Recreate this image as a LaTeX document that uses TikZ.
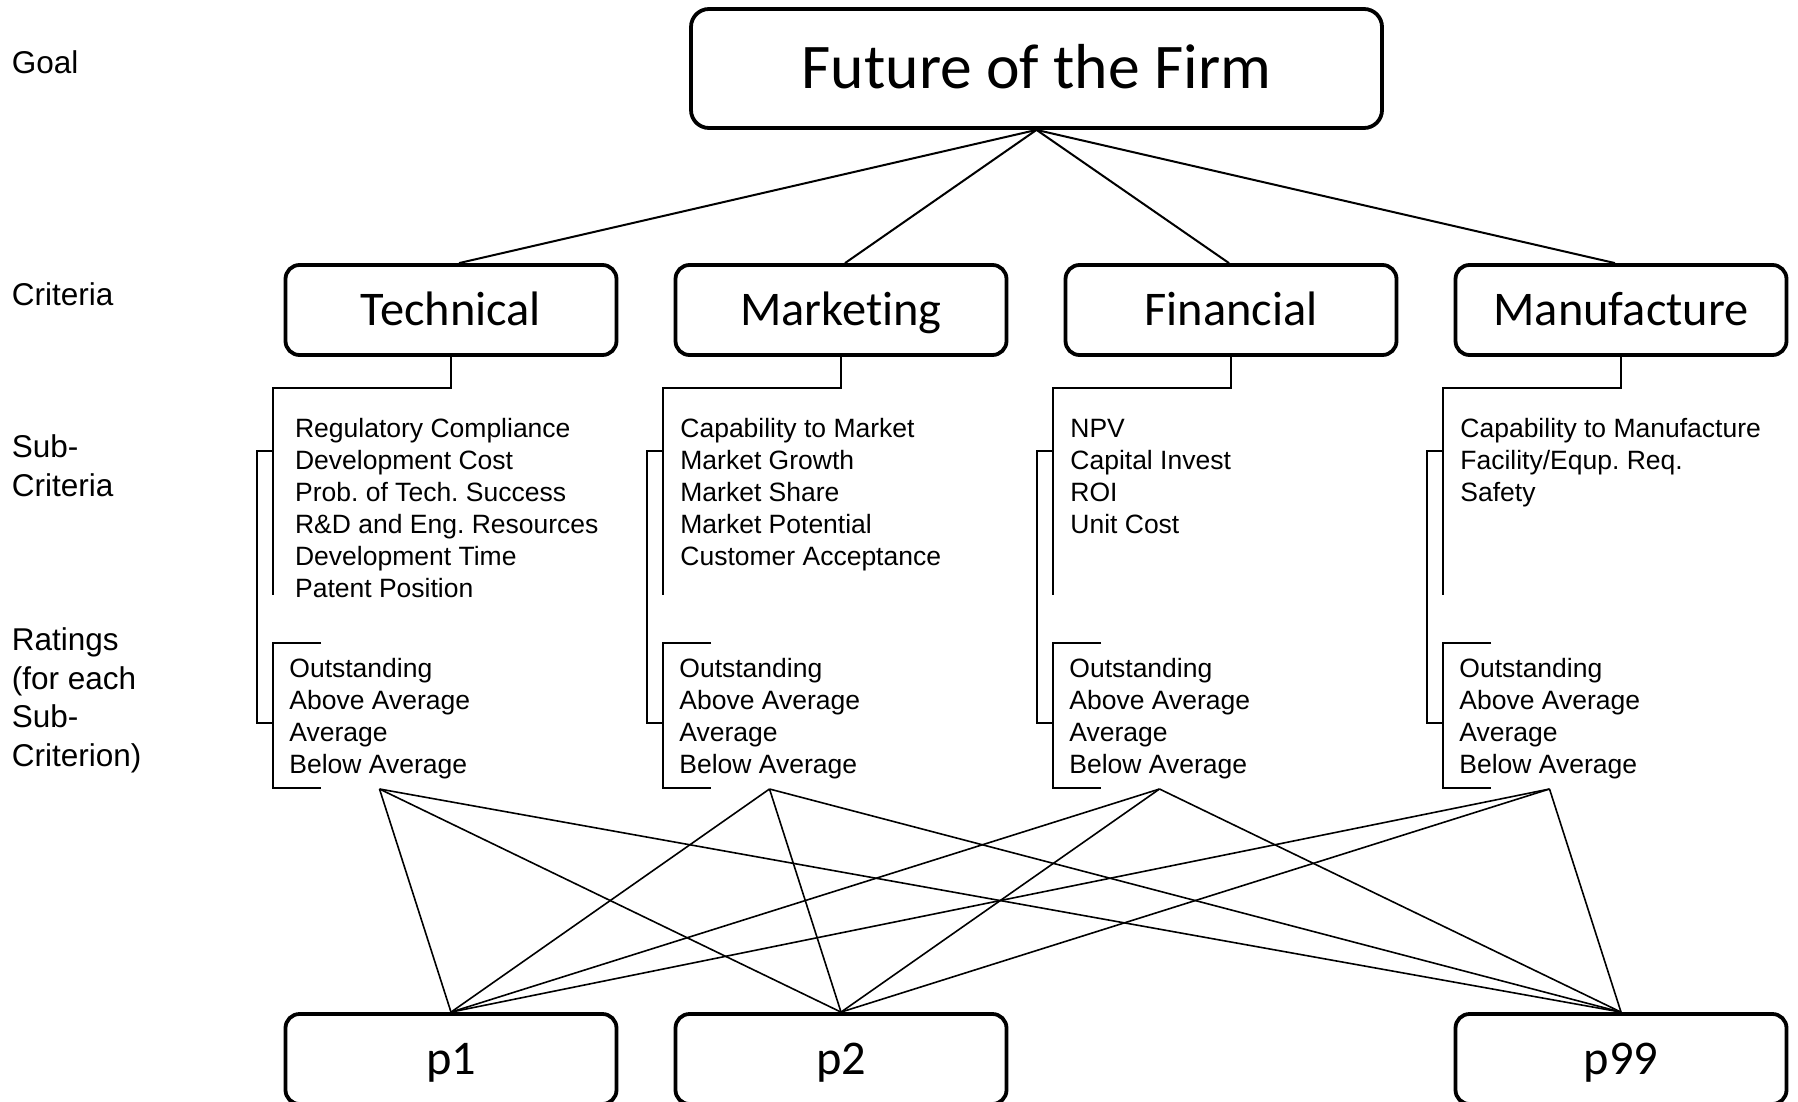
\documentclass[tikz,border=0pt]{standalone}
\usepackage{fontspec}
\setmainfont{Liberation Sans}
\newfontfamily\comicfont[Ligatures=CommonOff]{Carlito}
\newcommand\subfont{\fontsize{13.25pt}{16pt}\selectfont}
\newcommand\lblfont{\fontsize{15.75pt}{19.3pt}\selectfont}
\frenchspacing
\begin{document}
\frenchspacing
\begin{tikzpicture}[x=0.5pt,y=-0.5pt,
  critbox/.style={draw, line width=1.9pt, rounded corners=7pt, minimum width=165.5pt, minimum height=45pt, inner sep=0pt, text height=15.6pt, text depth=0pt, font=\comicfont\fontsize{24.2pt}{28pt}\selectfont},
  goalbox/.style={critbox, minimum width=345.5pt, minimum height=59.5pt, rounded corners=9pt, text height=20.4pt, text depth=0pt, font=\comicfont\fontsize{31.8pt}{36pt}\selectfont},
  lbl/.style={anchor=north west, inner sep=0pt, align=left, font=\lblfont},
  items/.style={anchor=north west, inner sep=0pt, align=left, font=\subfont},
  link/.style={line width=1pt},
  plink/.style={line width=0.8pt},
  bracket/.style={line width=1.3pt}]
\useasboundingbox (0,0) rectangle (1798,1102);

% main nodes
\node[goalbox] (goal) at (1036.5,68.5) {Future of the Firm};
\node[critbox] (tech) at (451,310) {Technical};
\node[critbox] (mark) at (841,310) {Marketing};
\node[critbox] (fin)  at (1231,310) {Financial};
\node[critbox] (manu) at (1621,310) {Manufacture};
\node[critbox] (p1)  at (451,1059) {p1};
\node[critbox] (p2)  at (841,1059) {p2};
\node[critbox] (p99) at (1621,1059) {p99};

% level labels
\node[lbl] (lgoal) at (11.5,46) {\strut Goal};
\node[lbl] (lcrit) at (11.5,278) {\strut Criteria};
\node[lbl] (lsub)  at (11.5,430) {\strut Sub-\\\strut Criteria};
\node[lbl] (lrat)  at (11.5,623) {\strut Ratings\\\strut (for each\\\strut Sub-\\\strut Criterion)};

% sub-criteria lists
\node[items] (tsub) at (294.7,414.6) {\strut Regulatory Compliance\\\strut Development Cost\\\strut Prob. of Tech. Success\\\strut R\&D and Eng. Resources\\\strut Development Time\\\strut Patent Position};
\node[items] (msub) at (680,414.6) {\strut Capability to Market\\\strut Market Growth\\\strut Market Share\\\strut Market Potential\\\strut Customer Acceptance};
\node[items] (fsub) at (1070,414.6) {\strut NPV\\\strut Capital Invest\\\strut ROI\\\strut Unit Cost};
\node[items] (usub) at (1460,414.6) {\strut Capability to Manufacture\\\strut Facility/Equp. Req.\\\strut Safety};

% ratings lists
\foreach \n/\x in {trat/289,mrat/679,frat/1069,urat/1459}
  \node[items] (\n) at (\x,654.6) {\strut Outstanding\\\strut Above Average\\\strut Average\\\strut Below Average};

% brackets
\foreach \c/\bx in {tech/273,mark/663,fin/1053,manu/1443} {
  \draw[bracket] (\c.south) |- (\bx,388) -- (\bx,595);
  \draw[bracket] (\bx,451) -- (\bx-16,451) -- (\bx-16,723) -- (\bx,723);
  \draw[bracket] (\bx+48,643) -- (\bx,643) -- (\bx,788) -- (\bx+48,788);
  \coordinate (\c-r) at (\bx+106.5,789);
}

% goal to criteria
\draw[link] (goal.south) -- ([xshift=4pt]tech.north);
\draw[link] (goal.south) -- ([xshift=2pt]mark.north);
\draw[link] (goal.south) -- ([xshift=-1pt]fin.north);
\draw[link] (goal.south) -- ([xshift=-3pt]manu.north);

% ratings to alternatives
\foreach \c in {tech,mark,fin,manu}
  \foreach \p in {p1,p2,p99}
    \draw[plink] (\c-r) -- (\p.north);
\end{tikzpicture}
\end{document}
